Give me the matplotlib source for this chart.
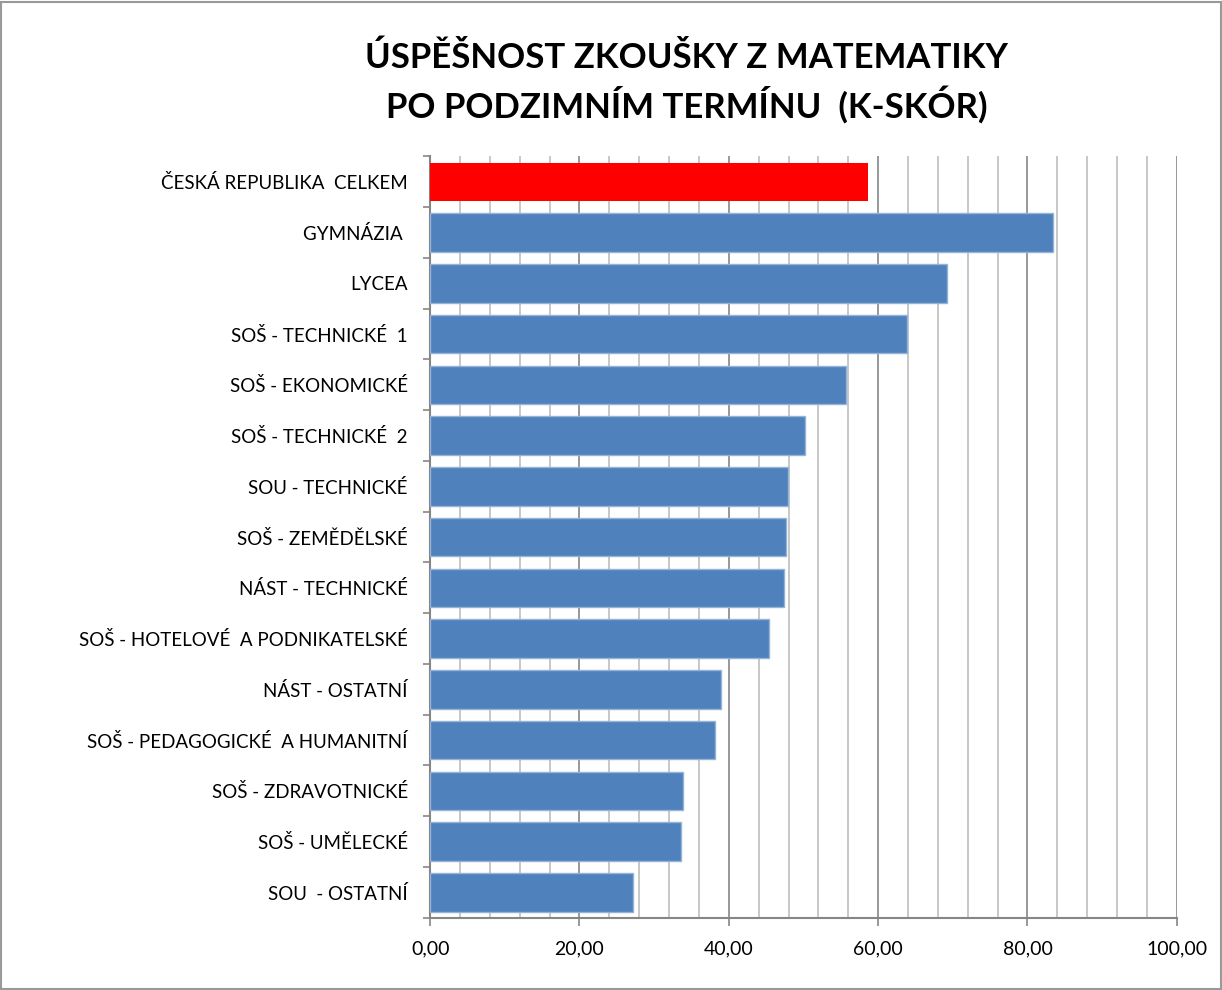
import numpy as np
import matplotlib.pyplot as plt
from matplotlib.patches import Rectangle
from matplotlib.ticker import MultipleLocator, FuncFormatter

plt.rcParams['font.family'] = ['Lato', 'DejaVu Sans']

categories = ['ČESKÁ REPUBLIKA  CELKEM', 'GYMNÁZIA ', 'LYCEA', 'SOŠ - TECHNICKÉ  1',
              'SOŠ - EKONOMICKÉ', 'SOŠ - TECHNICKÉ  2', 'SOU - TECHNICKÉ',
              'SOŠ - ZEMĚDĚLSKÉ', 'NÁST - TECHNICKÉ', 'SOŠ - HOTELOVÉ  A PODNIKATELSKÉ',
              'NÁST - OSTATNÍ', 'SOŠ - PEDAGOGICKÉ  A HUMANITNÍ', 'SOŠ - ZDRAVOTNICKÉ',
              'SOŠ - UMĚLECKÉ', 'SOU  - OSTATNÍ']
values = [58.7, 83.4, 69.2, 63.9, 55.7, 50.2, 47.9, 47.6, 47.4, 45.4,
          38.9, 38.2, 33.9, 33.6, 27.2]
colors = ['#FF0000'] + ['#4F81BD'] * (len(values) - 1)

fig = plt.figure(figsize=(12.22, 9.9), dpi=100)
ax = fig.add_axes([0.352, 0.073, 0.611, 0.769])

pos = np.arange(len(categories))
bars = ax.barh(pos, values, height=0.76, color=colors, zorder=3)
for b in bars[1:]:
    b.set_edgecolor('#95B3D7')
    b.set_linewidth(1)

ax.set_xlim(0, 100)
ax.set_ylim(len(categories) - 0.5, -0.5)
ax.xaxis.set_major_locator(MultipleLocator(20))
ax.xaxis.set_minor_locator(MultipleLocator(4))
ax.xaxis.set_major_formatter(FuncFormatter(lambda v, p: f'{v:.2f}'.replace('.', ',')))
ax.grid(which='major', axis='x', color='#868686', linewidth=1.2, zorder=0)
ax.grid(which='minor', axis='x', color='#BFBFBF', linewidth=1.2, zorder=0)

ax.set_yticks(pos)
ax.set_yticklabels(categories, fontsize=13.5)
ax.set_yticks(np.arange(len(categories) + 1) - 0.5, minor=True)
ax.tick_params(axis='y', which='major', length=0, pad=16)
ax.tick_params(axis='y', which='minor', length=5, color='#868686', width=1.2, direction='out')
ax.tick_params(axis='x', which='major', length=6, color='#868686', width=1.2,
               labelsize=14, pad=10)
ax.tick_params(axis='x', which='minor', length=0)

for s in ['top', 'right']:
    ax.spines[s].set_visible(False)
for s in ['left', 'bottom']:
    ax.spines[s].set_color('#868686')
    ax.spines[s].set_linewidth(1.5)

fig.text(0.562, 0.942, 'ÚSPĚŠNOST ZKOUŠKY Z MATEMATIKY', ha='center', va='center',
         fontsize=25, fontweight='bold')
fig.text(0.562, 0.894, 'PO PODZIMNÍM TERMÍNU  (K-SKÓR)', ha='center', va='center',
         fontsize=25, fontweight='bold')

fig.patches.append(Rectangle((0.001, 0.001), 0.998, 0.997, transform=fig.transFigure,
                             fill=False, edgecolor='#999999', linewidth=1.5))

fig.savefig('out.png', dpi=100)
